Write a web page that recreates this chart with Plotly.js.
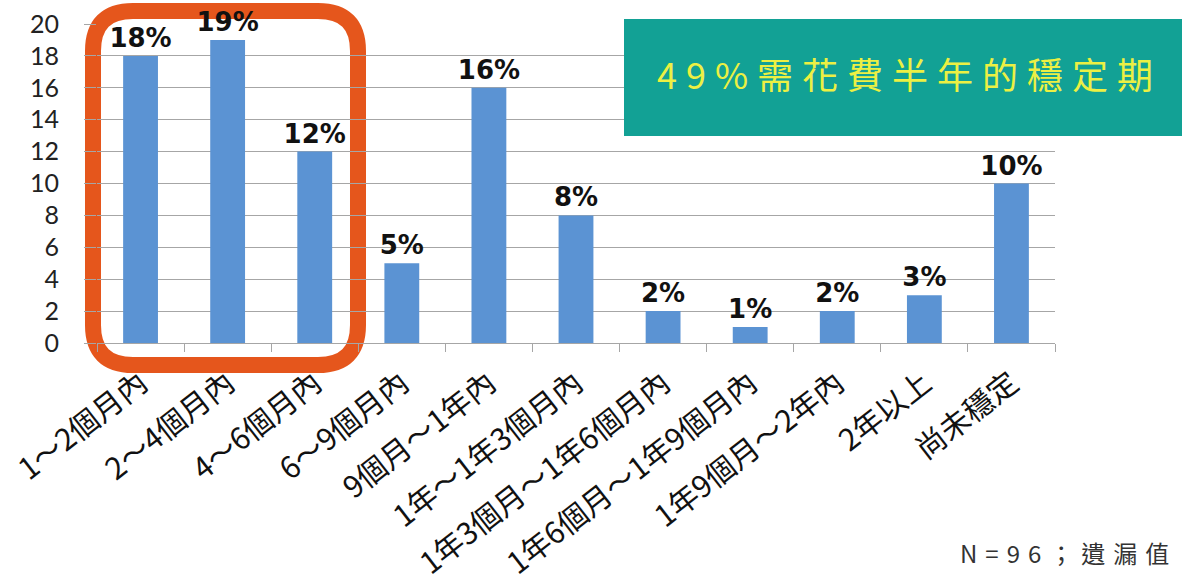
<!DOCTYPE html>
<html>
<head>
<meta charset="utf-8">
<script src="https://cdn.plot.ly/plotly-3.0.1.min.js"></script>
<style>html,body{margin:0;padding:0;background:#fff;}#chart{width:1182px;height:585px;}</style>
</head>
<body>
<div id="chart"></div>
<script>
const categories = ["1～2個月內","2～4個月內","4～6個月內","6～9個月內","9個月～1年內","1年～1年3個月內","1年3個月～1年6個月內","1年6個月～1年9個月內","1年9個月～2年內","2年以上","尚未穩定"];
const values = [18, 19, 12, 5, 16, 8, 2, 1, 2, 3, 10];
const pctLabels = ["18%","19%","12%","5%","16%","8%","2%","1%","2%","3%","10%"];
const yTicks = [0,2,4,6,8,10,12,14,16,18,20];
const calloutText = "49%需花費半年的穩定期";
const noteText = "N=96；遺漏值";

const W = 1182, H = 585;
const L = 97, R = 1055, T = 24, B = 343;
function px(x){ return (x - L) / (R - L); }
function py(y){ return (B - y) / (B - T); }

function roundRect(x0, y0, x1, y1, r){
  const P = (x,y) => px(x).toFixed(5) + "," + py(y).toFixed(5);
  return "M" + P(x0 + r, y0) +
    " L" + P(x1 - r, y0) + " Q" + P(x1, y0) + " " + P(x1, y0 + r) +
    " L" + P(x1, y1 - r) + " Q" + P(x1, y1) + " " + P(x1 - r, y1) +
    " L" + P(x0 + r, y1) + " Q" + P(x0, y1) + " " + P(x0, y1 - r) +
    " L" + P(x0, y0 + r) + " Q" + P(x0, y0) + " " + P(x0 + r, y0) + " Z";
}

const cjk = '"Noto Sans CJK TC", "Noto Sans", sans-serif';

const trace = {
  type: "bar",
  x: categories,
  y: values,
  text: pctLabels,
  textposition: "outside",
  constraintext: "none",
  cliponaxis: false,
  textfont: {family: '"DejaVu Sans", sans-serif', size: 26, color: "#111", weight: "bold"},
  marker: {color: "#5b93d3"},
  hoverinfo: "none"
};

const layout = {
  width: W, height: H,
  margin: {l: L, r: W - R, t: T, b: H - B, pad: 0},
  paper_bgcolor: "#ffffff",
  plot_bgcolor: "#ffffff",
  bargap: 0.6,
  showlegend: false,
  xaxis: {
    type: "category",
    showgrid: false,
    showline: true, linecolor: "#a6a6a6", linewidth: 1,
    ticks: "outside", tickson: "boundaries", ticklen: 8, tickcolor: "#a6a6a6",
    tickangle: -38,
    ticklabelstandoff: 10,
    tickfont: {family: cjk, size: 30, color: "#111"},
    fixedrange: true
  },
  yaxis: {
    range: [0, 20],
    tickvals: yTicks,
    ticktext: yTicks.map(String),
    showgrid: true, gridcolor: "#a6a6a6", gridwidth: 1,
    zeroline: false,
    showline: false,
    ticks: "outside", ticklen: 12, tickcolor: "#a6a6a6",
    ticklabelstandoff: 20,
    tickfont: {family: 'Lato, "Open Sans", sans-serif', size: 25, color: "#222"},
    fixedrange: true
  },
  shapes: [
    {type: "rect", xref: "paper", yref: "paper",
     x0: px(624), x1: px(1182), y0: py(136), y1: py(19),
     fillcolor: "#12a195", line: {width: 0}, layer: "above"},
    {type: "path", xref: "paper", yref: "paper",
     path: roundRect(93, 11, 358, 365, 40),
     line: {color: "#e5561c", width: 16}, fillcolor: "rgba(0,0,0,0)", layer: "between"}
  ],
  annotations: [
    {xref: "paper", yref: "paper", x: px(905), y: py(73), xanchor: "center", yanchor: "middle",
     text: calloutText.split("").join("\u2005"), showarrow: false,
     font: {family: cjk, size: 36, color: "#ecf043"}},
    {xref: "paper", yref: "paper", x: px(958), y: py(552), xanchor: "left", yanchor: "middle",
     text: noteText.split("").join("\u2004"), showarrow: false,
     font: {family: cjk, size: 24, color: "#333"}}
  ]
};

Plotly.newPlot("chart", [trace], layout, {displayModeBar: false, staticPlot: true});
</script>
</body>
</html>
